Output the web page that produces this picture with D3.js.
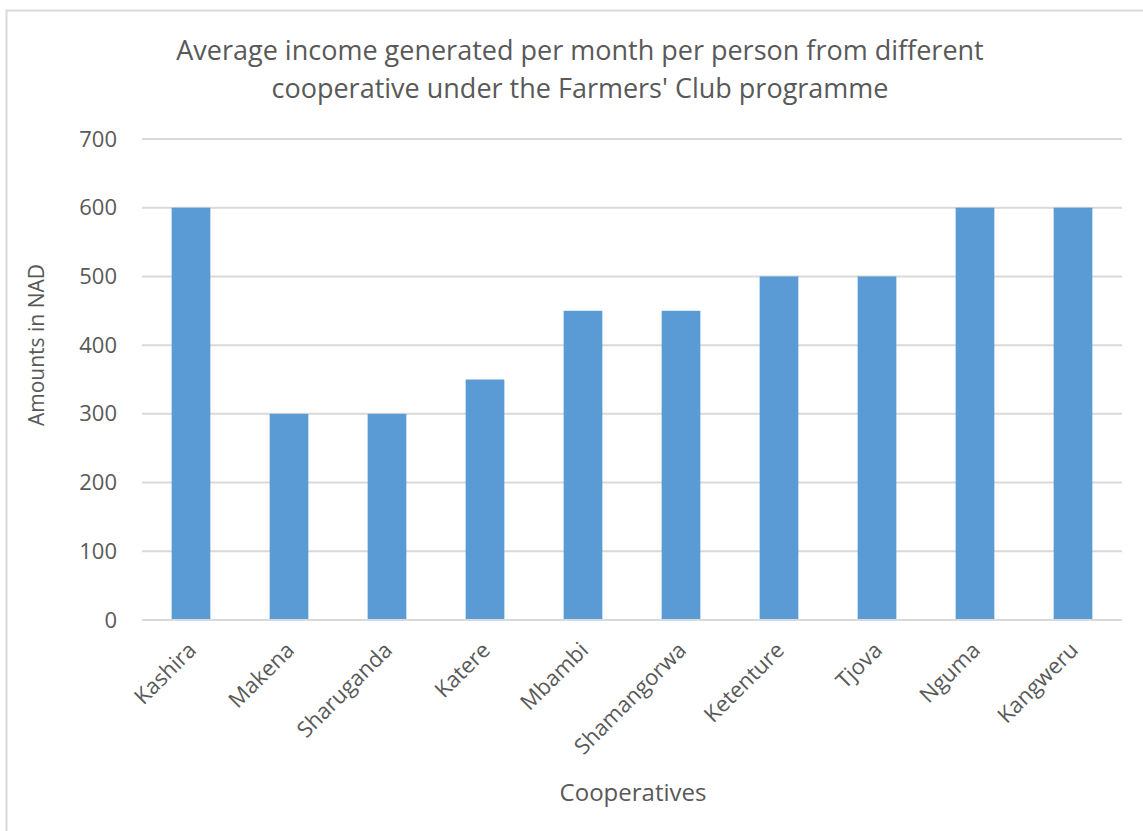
<!DOCTYPE html>
<html>
<head>
<meta charset="utf-8">
<script src="https://cdn.jsdelivr.net/npm/d3@7"></script>
<style>
  body { margin: 0; background: #fff; }
  text { font-family: "Open Sans", sans-serif; fill: #595959; }
</style>
</head>
<body>
<div id="chart"></div>
<script>
const cooperatives = ["Kashira", "Makena", "Sharuganda", "Katere", "Mbambi", "Shamangorwa", "Ketenture", "Tjova", "Nguma", "Kangweru"];
const income = [600, 300, 300, 350, 450, 450, 500, 500, 600, 600];
const yTicks = [0, 100, 200, 300, 400, 500, 600, 700];
const titleLines = ["Average income generated per month per person from different", "cooperative under the Farmers' Club programme"];

const width = 1143, height = 831;
const margin = { top: 139, left: 142, bottom: 211, right: 21 };
const iwidth = width - margin.left - margin.right;
const iheight = height - margin.top - margin.bottom;

const svg = d3.select("#chart").append("svg")
  .attr("width", width)
  .attr("height", height);

// chart frame (cut off at right and bottom like the original)
svg.append("rect")
  .attr("x", 6.5).attr("y", 10.5)
  .attr("width", 1160).attr("height", 840)
  .attr("fill", "none")
  .attr("stroke", "#d9d9d9")
  .attr("stroke-width", 2);

const g = svg.append("g")
  .attr("transform", `translate(${margin.left},${margin.top})`);

const x = d3.scaleBand()
  .domain(cooperatives)
  .range([0, iwidth])
  .paddingInner(0.605)
  .paddingOuter(0.3025);

const y = d3.scaleLinear()
  .domain([0, 700])
  .range([iheight, 0]);

// gridlines
g.append("g")
  .selectAll("line")
  .data(yTicks)
  .enter()
  .append("line")
  .attr("x1", 0).attr("x2", iwidth)
  .attr("y1", d => y(d)).attr("y2", d => y(d))
  .attr("stroke", "#d9d9d9")
  .attr("stroke-width", 2);

g.selectAll("rect.bar")
  .data(cooperatives)
  .enter()
  .append("rect")
  .attr("class", "bar")
  .attr("fill", "#5b9bd5")
  .attr("x", d => x(d))
  .attr("y", (d, i) => y(income[i]))
  .attr("width", x.bandwidth())
  .attr("height", (d, i) => iheight - y(income[i]));

// y axis
const yAxis = g.append("g")
  .call(d3.axisLeft(y).tickValues(yTicks).tickSize(0).tickPadding(25));
yAxis.select(".domain").remove();
yAxis.selectAll("text")
  .style("font-size", "22px")
  .style("font-family", "'Open Sans', sans-serif")
  .attr("fill", "#404040");

// x axis
const xAxis = g.append("g")
  .attr("transform", `translate(0,${iheight})`)
  .call(d3.axisBottom(x).tickSize(0));
xAxis.select(".domain").remove();
xAxis.selectAll("text")
  .style("font-size", "22px")
  .style("font-family", "'Open Sans', sans-serif")
  .attr("fill", "#404040")
  .attr("text-anchor", "end")
  .attr("dy", "0.35em")
  .attr("transform", "translate(-1,24) rotate(-45)");

// bottom baseline
g.append("line")
  .attr("x1", 0).attr("x2", iwidth)
  .attr("y1", iheight).attr("y2", iheight)
  .attr("stroke", "#d9d9d9")
  .attr("stroke-width", 2);

// title
svg.append("g").selectAll("text")
  .data(titleLines)
  .enter()
  .append("text")
  .attr("x", 580)
  .attr("y", (d, i) => 60 + i * 38)
  .attr("text-anchor", "middle")
  .style("font-size", "27px")
  .text(d => d);

svg.append("text")
  .attr("transform", "translate(44,345) rotate(-90)")
  .attr("text-anchor", "middle")
  .style("font-size", "21px")
  .attr("fill", "#404040")
  .text("Amounts in NAD");

svg.append("text")
  .attr("x", 633)
  .attr("y", 801)
  .attr("text-anchor", "middle")
  .style("font-size", "24px")
  .attr("fill", "#404040")
  .text("Cooperatives");
</script>
</body>
</html>
